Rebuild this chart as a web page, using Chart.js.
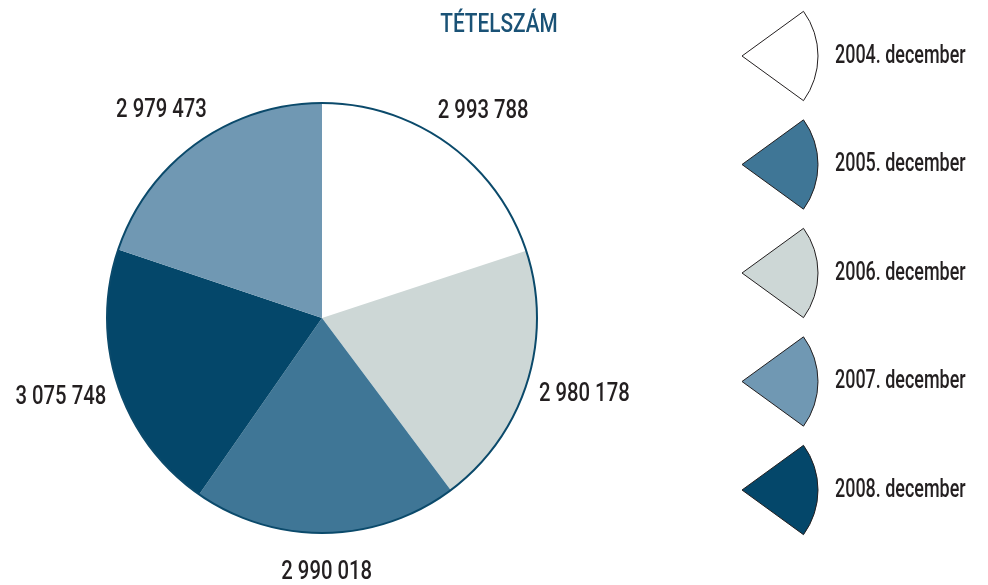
<!DOCTYPE html>
<html>
<head>
<meta charset="utf-8">
<title>Tételszám</title>
<script src="https://cdn.jsdelivr.net/npm/chart.js@4"></script>
<style>
  html, body { margin: 0; padding: 0; background: #ffffff; }
  canvas { display: block; }
</style>
</head>
<body>
<canvas id="tetelChart" width="988" height="585"></canvas>
<script>
(function () {
  'use strict';

  // --- Data (slice order = clockwise from the top) ---
  var titleText = 'TÉTELSZÁM';
  var labels = ['2004. december', '2006. december', '2005. december', '2008. december', '2007. december'];
  var values = [2993788, 2980178, 2990018, 3075748, 2979473];
  var colors = ['#ffffff', '#cdd7d6', '#3f7696', '#04476a', '#7098b3'];

  // --- Style constants ---
  var fontFamily = "Roboto, 'DejaVu Sans Condensed', sans-serif";
  var textDark = '#231f20';
  var titleColor = '#1a5276';
  var outlineColor = '#0b4a6b';

  // thousands separated by a space, e.g. 2 993 788
  function fmt(n) {
    return String(n).replace(/\B(?=(\d{3})+(?!\d))/g, ' ');
  }

  // draw text squeezed horizontally round its anchor (the original face is very narrow)
  function narrowText(ctx, text, x, y, align, sx) {
    ctx.save();
    ctx.translate(x, y);
    ctx.scale(sx, 1);
    ctx.textAlign = align;
    ctx.textBaseline = 'middle';
    ctx.fillText(text, 0, 0);
    ctx.restore();
  }

  // Outer outline, value labels, title and the wedge legend
  var decorPlugin = {
    id: 'decor',
    afterDatasetsDraw: function (chart) {
      var ctx = chart.ctx;
      var arcs = chart.getDatasetMeta(0).data;
      if (!arcs.length) return;
      var cx = arcs[0].x;
      var cy = arcs[0].y;
      var r = arcs[0].outerRadius;

      ctx.save();
      // dark rim round the pie only
      ctx.beginPath();
      ctx.arc(cx, cy, r, 0, Math.PI * 2);
      ctx.lineWidth = 2;
      ctx.strokeStyle = outlineColor;
      ctx.stroke();

      // value labels outside each slice
      ctx.font = '500 26px ' + fontFamily;
      ctx.fillStyle = textDark;
      arcs.forEach(function (arc, i) {
        var mid = (arc.startAngle + arc.endAngle) / 2;
        var x = cx + Math.cos(mid) * (r + 60);
        var y = cy + Math.sin(mid) * (r + 40);
        narrowText(ctx, fmt(values[i]), x, y, 'center', 0.78);
      });

      // title
      ctx.font = '500 26px ' + fontFamily;
      ctx.fillStyle = titleColor;
      narrowText(ctx, titleText, chart.width / 2 + 5, 25, 'center', 0.8);

      // legend, sorted by year
      var order = labels.map(function (l, i) { return i; });
      order.sort(function (a, b) { return labels[a] < labels[b] ? -1 : 1; });
      var apexX = chart.width - 246;
      var wedgeR = 76;
      var half = Math.PI / 5; // one fifth of the circle
      order.forEach(function (idx, k) {
        var y = 56 + k * 108.5;
        ctx.beginPath();
        ctx.moveTo(apexX, y);
        ctx.arc(apexX, y, wedgeR, -half, half);
        ctx.closePath();
        ctx.fillStyle = colors[idx];
        ctx.fill();
        ctx.lineWidth = 1;
        ctx.strokeStyle = textDark;
        ctx.stroke();

        ctx.fillStyle = textDark;
        ctx.font = '500 26px ' + fontFamily;
        narrowText(ctx, labels[idx], apexX + 93, y, 'left', 0.69);
      });
      ctx.restore();
    }
  };

  new Chart(document.getElementById('tetelChart').getContext('2d'), {
    type: 'pie',
    data: {
      labels: labels,
      datasets: [{
        data: values,
        backgroundColor: colors,
        borderWidth: 0,
        hoverOffset: 0
      }]
    },
    options: {
      responsive: false,
      animation: false,
      events: [],
      layout: {
        padding: { top: 103, bottom: 52, left: 0, right: 344 }
      },
      plugins: {
        legend: { display: false },
        title: { display: false },
        tooltip: { enabled: false }
      }
    },
    plugins: [decorPlugin]
  });
})();
</script>
</body>
</html>
